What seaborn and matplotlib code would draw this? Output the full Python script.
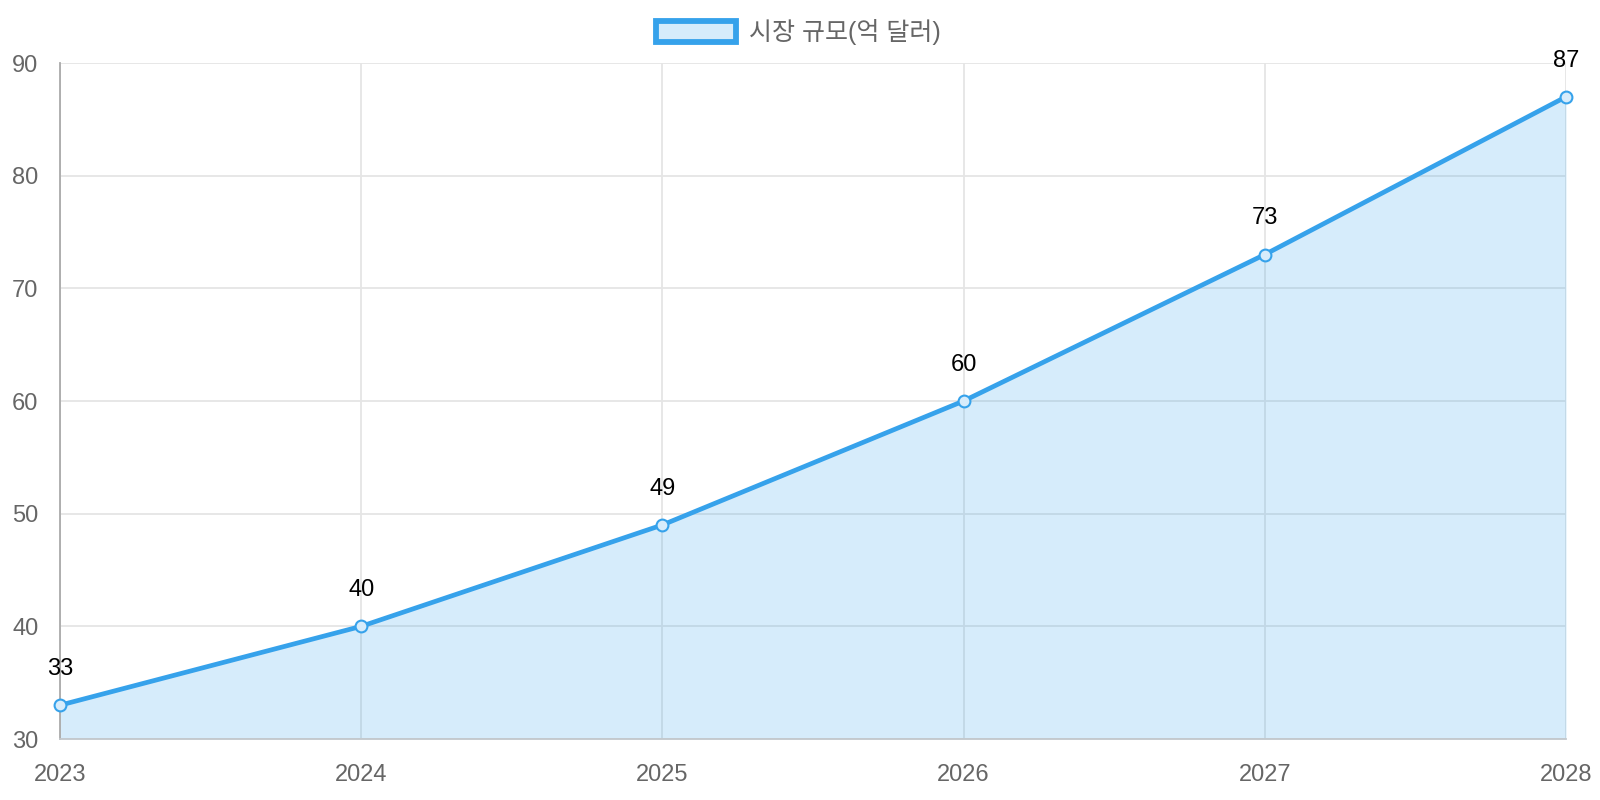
import matplotlib
matplotlib.use('Agg')
import matplotlib.pyplot as plt
from matplotlib.patches import Patch
import seaborn as sns
import pandas as pd

years = [2023, 2024, 2025, 2026, 2027, 2028]
market_size = [33, 40, 49, 60, 73, 87]
series_label = '시장 규모(억 달러)'
y_ticks = [30, 40, 50, 60, 70, 80, 90]

sns.set_theme(style='white')
plt.rcParams['font.family'] = ['Liberation Sans', 'Noto Sans CJK KR', 'DejaVu Sans']

line_color = '#36A2EB'
fill_color = (54 / 255, 162 / 255, 235 / 255, 0.2)
marker_face = '#d7ecfb'
grid_color = '#e5e5e5'
tick_color = '#666666'

df = pd.DataFrame({'year': years, 'size': market_size})

fig = plt.figure(figsize=(16, 8), dpi=100)
ax = fig.add_axes([0.0375, 0.07625, 0.94125, 0.845])

ax.fill_between(df['year'], df['size'], 30, color=fill_color, lw=0, zorder=2)
sns.lineplot(data=df, x='year', y='size', ax=ax, color=line_color, lw=3.4,
             marker='o', markersize=8.5, markerfacecolor=marker_face,
             markeredgecolor=line_color, markeredgewidth=1.5, zorder=3,
             clip_on=False)

for x, y in zip(years, market_size):
    ax.annotate(str(y), (x, y), xytext=(0, 26), textcoords='offset points',
                ha='center', va='center', fontsize=17, color='black',
                zorder=4, annotation_clip=False)

ax.set_xlim(2023, 2028)
ax.set_ylim(30, 90)
ax.set_xticks(years)
ax.set_yticks(y_ticks)
ax.set_xlabel('')
ax.set_ylabel('')
ax.grid(True, color=grid_color, lw=1.3, zorder=0)
ax.set_axisbelow(True)
ax.tick_params(axis='both', length=14, color=grid_color, width=1.3,
               labelsize=17, labelcolor=tick_color)
ax.tick_params(axis='x', pad=4)
ax.tick_params(axis='y', pad=1.5)
for side in ['top', 'right']:
    ax.spines[side].set_visible(False)
ax.spines['left'].set_color('#aaaaaa')
ax.spines['bottom'].set_color('#c4c8cc')
ax.spines['left'].set_linewidth(1.3)
ax.spines['bottom'].set_linewidth(1.3)

handle = Patch(facecolor=fill_color, edgecolor=line_color, lw=4.2)
fig.legend([handle], [series_label], loc='center', bbox_to_anchor=(0.499, 0.96),
           frameon=False, fontsize=18, labelcolor=tick_color,
           handlelength=3.2, handleheight=0.95, handletextpad=0.55)

fig.savefig('out.png', dpi=100)
